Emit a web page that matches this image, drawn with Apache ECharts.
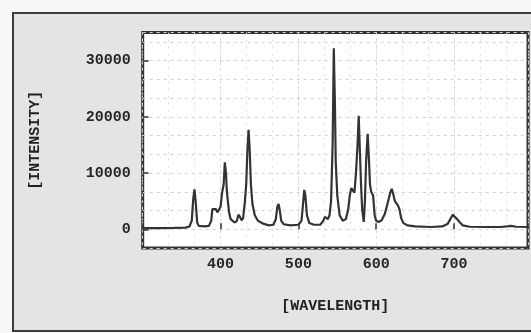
<!DOCTYPE html>
<html>
<head>
<meta charset="utf-8">
<script src="https://cdn.jsdelivr.net/npm/echarts@6/dist/echarts.min.js"></script>
<style>
html,body{margin:0;padding:0;background:#f7f7f7;}
#chart{width:531px;height:333px;}
</style>
</head>
<body>
<div id="chart"></div>
<script>
// Wavelength (nm) and intensity
var wavelengths = [300,320,340,355,360,363,365,366.5,368,370,372,380,385,388,389.5,392,394,396,398,400,402,404,405.5,407,408,409,411,413,415,418,421,423,425,427,429,431,433,434.5,436,437.5,439,441,444,448,455,462,468,471,473,474.5,476,478,481,490,500,504,506,507.5,509,511,514,520,528,532,534,536,538,540,542,544,545.5,547,548,550,553,557,561,564,566,568,570,572,574,576,577.5,579,580.5,582,584,585.5,587,589,590.5,592,593.5,596,598,600,603,607,611,615,618,620,622,624,626,628,630,632,635,640,650,670,685,692,696,698.5,701,704,707,711,720,740,760,768,772,775,780,795];
var intensity = [200,200,250,300,500,1500,5500,7100,5000,1200,600,500,600,1500,3600,3900,3600,3000,3300,4000,6500,8000,11900,10000,7000,5500,3000,1800,1600,1200,1500,2600,2200,1600,2000,4500,8000,14000,17700,14000,8000,4500,2500,1500,1000,700,800,1800,4000,4500,3500,1500,900,700,800,1500,4500,7000,6000,2500,1100,800,800,1500,2200,2000,1800,2500,5000,15000,32200,22000,12000,6000,2500,1500,1800,3500,6000,7300,7000,6500,10000,15000,20200,14000,8000,3500,1300,5000,12000,17000,13000,8000,6700,6000,2500,1500,1300,1600,2700,4800,6500,7200,6200,5000,4600,4200,3500,2000,1100,700,500,400,500,1000,2000,2600,2200,1800,1300,700,450,400,400,500,600,550,450,400];
var xTickLabels = [400,500,600,700];
var yTickLabels = [0,10000,20000,30000];
var xAxisTitle = '[WAVELENGTH]';
var yAxisTitle = '[INTENSITY]';

var points = wavelengths.map(function(w,i){return [w,intensity[i]];});
var FONT = '"Liberation Mono", "Courier New", monospace';
var chart = echarts.init(document.getElementById('chart'));
var yMin = -10000/3, yMax = 35000;
chart.setOption({
  backgroundColor: '#f7f7f7',
  animation: false,
  graphic: [{
    type: 'rect', z: -100, silent: true,
    shape: {x: 13, y: 13, width: 560, height: 318},
    style: {fill: '#e4e4e4', stroke: '#3c3c3c', lineWidth: 2}
  }],
  grid: {
    left: 142.7, top: 32.6, right: 0.6, bottom: 85,
    show: true, backgroundColor: '#ffffff', borderColor: '#333333', borderWidth: 3
  },
  xAxis: [{
    type: 'value', min: 300, max: 795, interval: 100,
    name: xAxisTitle, nameLocation: 'middle', nameGap: 51,
    nameTextStyle: {fontFamily: FONT, fontWeight: 'bold', fontSize: 15, color: '#222'},
    axisLine: {show: false},
    axisTick: {show: true, inside: true, length: 6, lineStyle: {color: '#333', width: 1.5}},
    axisLabel: {
      margin: 9, fontFamily: FONT, fontWeight: 'bold', fontSize: 15, color: '#262626',
      formatter: function(v){ return xTickLabels.indexOf(v) >= 0 ? String(v) : ''; }
    },
    splitLine: {show: true, lineStyle: {color: '#cfcfcf', type: [2,4], width: 1}}
  },{
    type: 'value', min: 300, max: 795, interval: 100/3, position: 'top',
    axisLine: {show: false}, axisTick: {show: false}, axisLabel: {show: false},
    splitLine: {show: true, lineStyle: {color: '#dadada', type: [2,5], width: 1}}
  }],
  yAxis: [{
    type: 'value', min: yMin, max: yMax,
    name: yAxisTitle, nameLocation: 'middle', nameGap: 100, nameRotate: 90,
    nameTextStyle: {fontFamily: FONT, fontWeight: 'bold', fontSize: 15, color: '#222'},
    axisLine: {show: false},
    axisTick: {show: true, inside: true, length: 6, customValues: yTickLabels, lineStyle: {color: '#333', width: 1.5}},
    axisLabel: {
      margin: 12, fontFamily: FONT, fontWeight: 'bold', fontSize: 15, color: '#262626',
      customValues: yTickLabels,
      formatter: function(v){ return String(Math.round(v)); }
    },
    splitLine: {show: false}
  },{
    type: 'value', min: yMin, max: yMax, interval: 10000/3, position: 'left',
    axisLine: {show: false}, axisLabel: {show: false}, axisTick: {show: false},
    splitLine: {show: true, lineStyle: {color: '#d2d2d2', type: [3,4], width: 1}}
  }],
  series: [{
    type: 'line', data: points, xAxisIndex: 0, yAxisIndex: 0,
    showSymbol: false, symbol: 'none', smooth: false,
    lineStyle: {color: '#333333', width: 2.2}
  }]
});
</script>
</body>
</html>
